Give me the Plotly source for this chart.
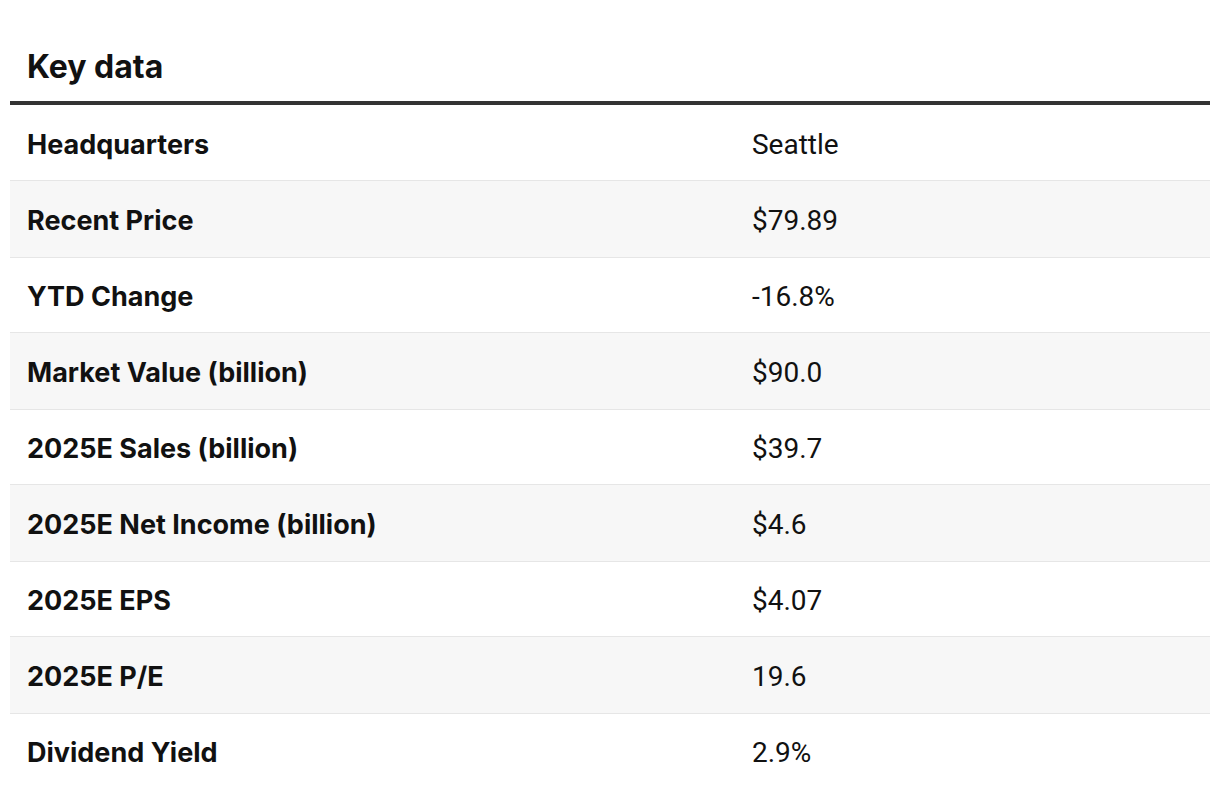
import plotly.graph_objects as go

title_text = "Key data"
labels = ["Headquarters", "Recent Price", "YTD Change", "Market Value (billion)",
          "2025E Sales (billion)", "2025E Net Income (billion)", "2025E EPS",
          "2025E P/E", "Dividend Yield"]
values = ["Seattle", "$79.89", "-16.8%", "$90.0", "$39.7", "$4.6", "$4.07", "19.6", "2.9%"]

n = len(labels)
rows = [i + 0.5 for i in range(n)]
text_rows = [r + 0.055 for r in rows]
shade_rows = [r for i, r in enumerate(rows) if i % 2 == 1]

fig = go.Figure()
fig.add_trace(go.Bar(
    y=shade_rows, x=[1] * len(shade_rows), orientation="h", width=1,
    marker=dict(color="#f7f7f7", line=dict(width=0)), hoverinfo="skip", showlegend=False,
))
fig.add_trace(go.Scatter(
    x=[0.0142] * n, y=text_rows, mode="text", text=labels, textposition="middle right",
    textfont=dict(family="Inter", size=27, color="#111111", weight=700),
    hoverinfo="skip", showlegend=False,
))
fig.add_trace(go.Scatter(
    x=[0.6183] * n, y=text_rows, mode="text", text=values, textposition="middle right",
    textfont=dict(family="Roboto", size=28, color="#111111"),
    hoverinfo="skip", showlegend=False,
))

fig.update_layout(
    width=1220, height=798,
    margin=dict(l=2, r=18, t=97, b=17),
    paper_bgcolor="white", plot_bgcolor="white",
    title=dict(text=title_text, x=19 / 1220, xanchor="left", xref="container",
               y=1 - 59 / 798, yanchor="middle", yref="container",
               font=dict(family="Inter", size=32, color="#111111", weight=700)),
    xaxis=dict(range=[0, 1], showgrid=False, zeroline=False, showticklabels=False,
               ticks="", side="top", showline=True, linewidth=3.5, linecolor="#333333",
               fixedrange=True),
    yaxis=dict(range=[n, 0], dtick=1, tick0=0, showgrid=True, gridcolor="#e6e6e6",
               gridwidth=2, zeroline=False, showticklabels=False, ticks="",
               showline=False, fixedrange=True),
    bargap=0,
)

fig.write_html("out.html", config={"displayModeBar": False})
